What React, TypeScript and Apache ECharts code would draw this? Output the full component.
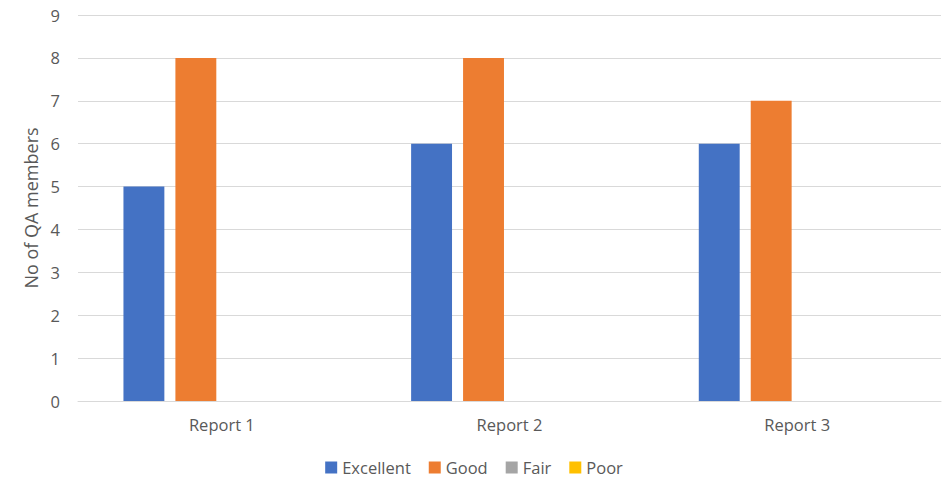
import React, { useEffect, useRef } from "react";
import * as echarts from "echarts";

const categories = ["Report 1", "Report 2", "Report 3"];
const excellent = [5, 6, 6];
const good = [8, 8, 7];
const fair = [0, 0, 0];
const poor = [0, 0, 0];
const seriesNames = ["Excellent", "Good", "Fair", "Poor"];
const colors = ["#4472C4", "#ED7D31", "#A5A5A5", "#FFC000"];

const FONT = "'Open Sans', 'Liberation Sans', sans-serif";
const TEXT = "#595959";

export default function App() {
  const ref = useRef<HTMLDivElement>(null);

  useEffect(() => {
    if (!ref.current) return;
    const chart = echarts.init(ref.current, undefined, { renderer: "svg" });
    const values = [excellent, good, fair, poor];
    chart.setOption({
      animation: false,
      color: colors,
      textStyle: { fontFamily: FONT, color: TEXT },
      grid: { left: 78, right: 7, top: 15, bottom: 79, containLabel: false },
      legend: {
        top: 459,
        left: "center",
        padding: 0,
        itemWidth: 12,
        itemHeight: 12,
        itemGap: 18,
        icon: "rect",
        textStyle: { fontFamily: FONT, fontSize: 16.5, color: TEXT },
        data: seriesNames,
      },
      xAxis: {
        type: "category",
        data: categories,
        axisTick: { show: false },
        axisLine: { lineStyle: { color: "#d9d9d9", width: 1 } },
        axisLabel: { fontFamily: FONT, fontSize: 16.5, color: TEXT, margin: 15 },
      },
      yAxis: {
        type: "value",
        min: 0,
        max: 9,
        interval: 1,
        name: "No of QA members",
        nameLocation: "middle",
        nameGap: 38,
        nameTextStyle: { fontFamily: FONT, fontSize: 18, color: TEXT },
        axisLabel: { fontFamily: FONT, fontSize: 16.5, color: TEXT, margin: 18 },
        splitLine: { lineStyle: { color: "#d9d9d9", width: 1 } },
        axisLine: { show: false },
        axisTick: { show: false },
      },
      series: seriesNames.map((name, i) => ({
        name,
        type: "bar",
        data: values[i],
        barGap: "27%",
        barCategoryGap: "31.6%",
      })),
    });
    return () => chart.dispose();
  }, []);

  return (
    <div
      ref={ref}
      style={{ position: "absolute", left: 0, top: 0, width: 948, height: 480, background: "#fff" }}
    />
  );
}
